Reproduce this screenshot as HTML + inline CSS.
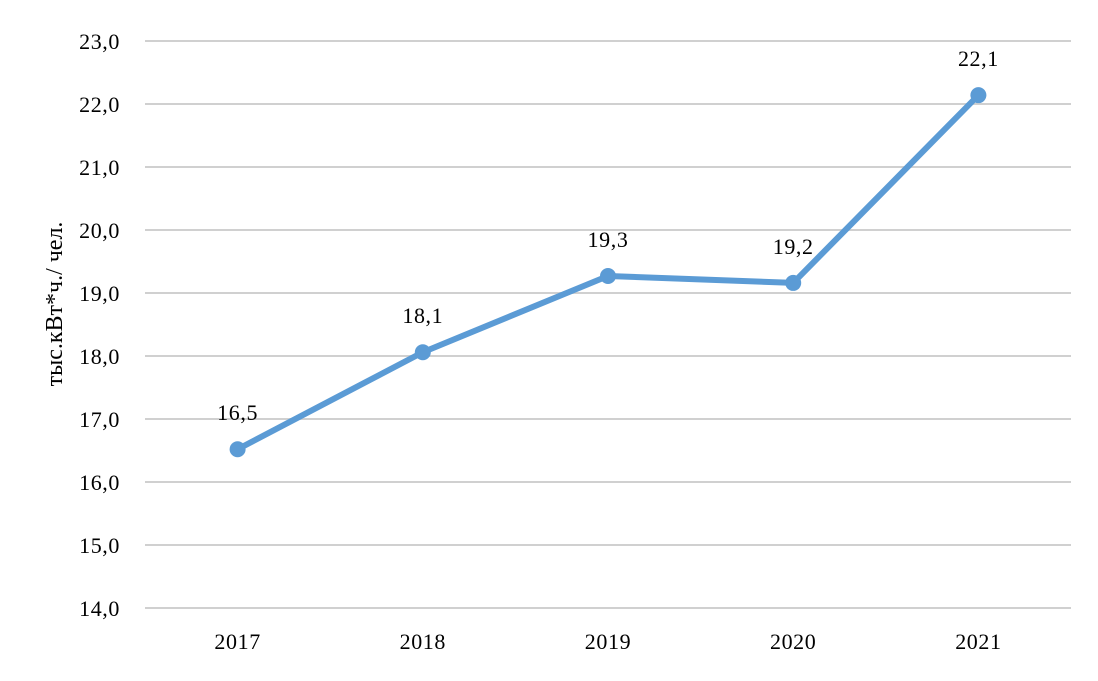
<!DOCTYPE html>
<html><head><meta charset="utf-8"><style>
html,body{margin:0;padding:0;background:#fff;}
svg{display:block;font-family:"Liberation Serif",serif;}
</style></head><body>
<svg id="chart" width="1098" height="681"></svg>
<script>
const categories = ["2017","2018","2019","2020","2021"];
const values = [16.52, 18.06, 19.27, 19.16, 22.14];
const yTicks = [14,15,16,17,18,19,20,21,22,23];

const NS = "http://www.w3.org/2000/svg";
const svg = document.getElementById("chart");
const x0 = 145, x1 = 1071, yMin = 14, yMax = 23, yBottom = 608, yTop = 41;
const band = (x1 - x0) / categories.length;
function xPos(i){ return x0 + band * (i + 0.5); }
function yPos(v){ return yBottom - (v - yMin) / (yMax - yMin) * (yBottom - yTop); }
function mk(tag, attrs){ const e = document.createElementNS(NS, tag); for (const k in attrs) e.setAttribute(k, attrs[k]); svg.appendChild(e); return e; }

yTicks.forEach(t => {
  const g = mk("line", {x1:x0, x2:x1, y1:yPos(t), y2:yPos(t), stroke:"#d0d0d0", "stroke-width":2});
  
  
  const l = mk("text", {x:120, y:yPos(t)+8, "text-anchor":"end", "font-size":22, "letter-spacing":"0.6", fill:"#000"});
  l.textContent = t.toFixed(1).replace(".", ",");
  
  
});

categories.forEach((c, i) => {
  const l = mk("text", {x:xPos(i), y:649, "text-anchor":"middle", "font-size":22, "letter-spacing":"0.6", fill:"#000"});
  l.textContent = c;
  
  
});

const title = mk("text", {x:0, y:0, "text-anchor":"middle", "font-size":24, fill:"#000", transform:"translate(62,304) rotate(-90)"});
title.textContent = "тыс.кВт*ч./ чел.";



const pts = values.map((v, i) => xPos(i) + "," + yPos(v)).join(" ");
const line = mk("polyline", {points:pts, fill:"none", stroke:"#5b9bd5", "stroke-width":6, "stroke-linejoin":"round", "stroke-linecap":"round"});



values.forEach((v, i) => {
  const c = mk("circle", {cx:xPos(i), cy:yPos(v), r:8, fill:"#5b9bd5"});
  
  
  const t = mk("text", {x:xPos(i), y:yPos(v)-29, "text-anchor":"middle", "font-size":22, "letter-spacing":"0.6", fill:"#000"});
  t.textContent = v.toFixed(1).replace(".", ",");
  
  
});
</script>
</body></html>
